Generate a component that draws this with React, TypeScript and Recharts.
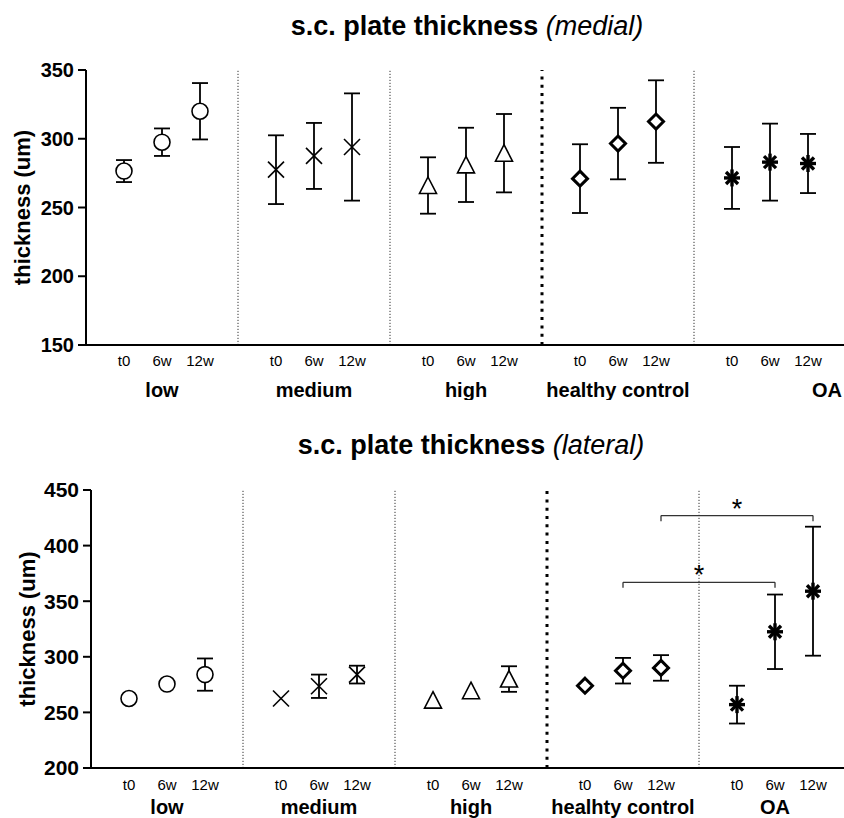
import React from "react";
import {
  ScatterChart,
  Scatter,
  XAxis,
  YAxis,
  ErrorBar,
  ReferenceLine,
  Label,
} from "recharts";

const FONT = '"Liberation Sans", Arial, Helvetica, sans-serif';

const timepoints = ["t0", "6w", "12w"];
const groupsMedial = ["low", "medium", "high", "healthy control", "OA"];
const groupsLateral = ["low", "medium", "high", "healhty control", "OA"];
const markers = ["circle", "cross", "triangle", "diamond", "asterisk"];

// mean thickness per group (t0, 6w, 12w)
const medialMean = [
  [276.5, 297.5, 320],
  [277.5, 287.5, 294],
  [266, 281, 289.5],
  [271, 296.5, 312.5],
  [271.5, 283, 282],
];
const medialSd = [
  [8, 10, 20.5],
  [25, 24, 39],
  [20.5, 27, 28.5],
  [25, 26, 30],
  [22.5, 28, 21.5],
];

const lateralMean = [
  [262.5, 275.5, 284],
  [262.5, 273.5, 284],
  [261, 269.5, 280],
  [274, 287.5, 290],
  [257, 322.5, 359],
];
// null = bar shorter than the symbol, not drawn
const lateralSd = [
  [null, null, 14.5],
  [null, 10.5, 8],
  [null, null, 11.5],
  [null, 11.5, 11.5],
  [17, 33.5, 58],
];

const medialTicks = [150, 200, 250, 300, 350];
const lateralTicks = [200, 250, 300, 350, 400, 450];

// separators between groups, the one at 12 is drawn heavier
const separators = [4, 8, 12, 16];
const medialGroupPos = [2, 6, 10, 14, 19.5];
const lateralGroupPos = [2, 6, 10, 14, 18];

// significance brackets (lateral)
const bracketFrom = [14, 15];
const bracketTo = [18, 19];
const bracketY = [367, 427];

const tpTicks = [0, 1, 2, 3, 4].flatMap((g) => [1, 2, 3].map((i) => g * 4 + i));

const makeShape = (kind: string) => (props: any) => {
  const { cx, cy } = props;
  if (cx == null || cy == null) return <g />;
  switch (kind) {
    case "circle":
      return <circle cx={cx} cy={cy} r={8} fill="#fff" stroke="#000" strokeWidth={1.6} />;
    case "cross":
      return (
        <g stroke="#000" strokeWidth={1.6}>
          <line x1={cx - 8} y1={cy - 8} x2={cx + 8} y2={cy + 8} />
          <line x1={cx - 8} y1={cy + 8} x2={cx + 8} y2={cy - 8} />
        </g>
      );
    case "triangle":
      return (
        <polygon
          points={`${cx},${cy - 8.5} ${cx + 8.5},${cy + 8} ${cx - 8.5},${cy + 8}`}
          fill="#fff"
          stroke="#000"
          strokeWidth={1.6}
        />
      );
    case "diamond":
      return (
        <polygon
          points={`${cx},${cy - 7.5} ${cx + 7.5},${cy} ${cx},${cy + 7.5} ${cx - 7.5},${cy}`}
          fill="#fff"
          stroke="#000"
          strokeWidth={3}
        />
      );
    default:
      return (
        <g stroke="#000" strokeWidth={3.4}>
          <line x1={cx} y1={cy - 8.5} x2={cx} y2={cy + 8.5} />
          <line x1={cx - 8} y1={cy} x2={cx + 8} y2={cy} />
          <line x1={cx - 6} y1={cy - 6} x2={cx + 6} y2={cy + 6} />
          <line x1={cx - 6} y1={cy + 6} x2={cx + 6} y2={cy - 6} />
        </g>
      );
  }
};

interface PanelProps {
  means: number[][];
  sds: (number | null)[][];
  groups: string[];
  groupPos: number[];
  yTicks: number[];
  width: number;
  height: number;
  top: number;
  yWidth: number;
  tickFont: number;
  yLabelX: number;
  tpOff: number;
  tpHeight: number;
  grpOff: number;
  grpHeight: number;
  brackets?: boolean;
}

function Panel(p: PanelProps) {
  const series = p.means.map((row, g) => {
    const withErr: any[] = [];
    const noErr: any[] = [];
    row.forEach((v, i) => {
      const sd = p.sds[g][i];
      const pt = { x: g * 4 + i + 1, y: v, err: sd };
      if (sd == null) noErr.push(pt);
      else withErr.push(pt);
    });
    return { withErr, noErr, shape: makeShape(markers[g]) };
  });

  return (
    <ScatterChart
      width={p.width}
      height={p.height}
      margin={{ top: p.top, right: 0, bottom: 0, left: 0 }}
    >
      <XAxis
        type="number"
        dataKey="x"
        domain={[0, 20]}
        ticks={tpTicks}
        allowDataOverflow
        height={p.tpHeight}
        stroke="#000"
        axisLine={{ stroke: "#000", strokeWidth: 2 }}
        tickLine={false}
        tickSize={0}
        tickMargin={0}
        tick={(t: any) => (
          <text
            x={t.x}
            y={t.y + p.tpOff}
            textAnchor="middle"
            dominantBaseline="central"
            fontSize={15}
            fontFamily={FONT}
            fill="#000"
          >
            {timepoints[(Math.round(t.payload.value) - 1) % 4]}
          </text>
        )}
      />
      <XAxis
        xAxisId="grp"
        type="number"
        dataKey="x"
        domain={[0, 20]}
        ticks={p.groupPos}
        allowDataOverflow
        height={p.grpHeight}
        axisLine={false}
        tickLine={false}
        tickSize={0}
        tickMargin={0}
        tick={(t: any) => (
          <text
            x={t.x}
            y={t.y + p.grpOff}
            textAnchor="middle"
            dominantBaseline="central"
            fontSize={20}
            fontWeight="bold"
            fontFamily={FONT}
            fill="#000"
          >
            {p.groups[t.index]}
          </text>
        )}
      />
      <YAxis
        type="number"
        dataKey="y"
        domain={[p.yTicks[0], p.yTicks[p.yTicks.length - 1]]}
        ticks={p.yTicks}
        allowDataOverflow
        width={p.yWidth}
        axisLine={{ stroke: "#000", strokeWidth: 2 }}
        tickLine={{ stroke: "#000", strokeWidth: 2 }}
        tickSize={8}
        tickMargin={4}
        tick={{ fontSize: p.tickFont, fontWeight: "bold", fill: "#000", fontFamily: FONT }}
      >
        <Label
          content={(lp: any) => {
            const vb = lp.viewBox || {};
            const cy = vb.y + vb.height / 2;
            return (
              <text
                x={p.yLabelX}
                y={cy}
                transform={`rotate(-90 ${p.yLabelX} ${cy})`}
                textAnchor="middle"
                dominantBaseline="central"
                fontSize={22}
                fontWeight="bold"
                fontFamily={FONT}
                fill="#000"
              >
                thickness (um)
              </text>
            );
          }}
        />
      </YAxis>

      {separators.map((s) => (
        <ReferenceLine
          key={`sep-${s}`}
          x={s}
          stroke={s === 12 ? "#000" : "#333"}
          strokeWidth={s === 12 ? 3 : 1}
          strokeDasharray={s === 12 ? "3 5.3" : "1.2 1.8"}
        />
      ))}

      {p.brackets &&
        bracketFrom.map((a, k) => {
          const b = bracketTo[k];
          const yv = bracketY[k];
          return (
            <React.Fragment key={`br-${k}`}>
              <ReferenceLine
                segment={[
                  { x: a, y: yv },
                  { x: b, y: yv },
                ]}
                stroke="#333"
                strokeWidth={1.3}
                label={{
                  value: "*",
                  position: "top",
                  offset: -2,
                  fontSize: 27,
                  fill: "#000",
                  fontFamily: FONT,
                }}
              />
              <ReferenceLine
                segment={[
                  { x: a, y: yv },
                  { x: a, y: yv - 5 },
                ]}
                stroke="#333"
                strokeWidth={1.3}
              />
              <ReferenceLine
                segment={[
                  { x: b, y: yv },
                  { x: b, y: yv - 5 },
                ]}
                stroke="#333"
                strokeWidth={1.3}
              />
            </React.Fragment>
          );
        })}

      {series.map((s, g) => (
        <Scatter
          key={`e-${g}`}
          data={s.withErr}
          shape={s.shape}
          isAnimationActive={false}
        >
          <ErrorBar
            dataKey="err"
            direction="y"
            width={8}
            stroke="#000"
            strokeWidth={1.8}
            isAnimationActive={false}
          />
        </Scatter>
      ))}
      {series.map((s, g) =>
        s.noErr.length ? (
          <Scatter
            key={`n-${g}`}
            data={s.noErr}
            shape={s.shape}
            isAnimationActive={false}
          />
        ) : null
      )}
    </ScatterChart>
  );
}

function Title({ top, center, side }: { top: number; center: number; side: string }) {
  return (
    <div
      style={{
        position: "absolute",
        top,
        left: center - 300,
        width: 600,
        textAlign: "center",
        fontFamily: FONT,
        fontSize: 27,
        lineHeight: "27px",
        fontWeight: "bold",
        color: "#000",
        whiteSpace: "nowrap",
      }}
    >
      s.c. plate thickness{" "}
      <span style={{ fontStyle: "italic", fontWeight: "normal" }}>({side})</span>
    </div>
  );
}

export default function App() {
  return (
    <div
      style={{
        position: "absolute",
        left: 0,
        top: 0,
        width: 844,
        height: 818,
        overflow: "hidden",
        background: "#fff",
      }}
    >
      <div style={{ position: "absolute", left: 0, top: 0 }}>
        <Panel
          means={medialMean}
          sds={medialSd}
          groups={groupsMedial}
          groupPos={medialGroupPos}
          yTicks={medialTicks}
          width={846}
          height={400}
          top={70}
          yWidth={86}
          tickFont={20}
          yLabelX={22}
          tpOff={15}
          tpHeight={30}
          grpOff={15}
          grpHeight={25}
        />
      </div>
      <div style={{ position: "absolute", left: 0, top: 400 }}>
        <Panel
          means={lateralMean}
          sds={lateralSd}
          groups={groupsLateral}
          groupPos={lateralGroupPos}
          yTicks={lateralTicks}
          width={851}
          height={418}
          top={90}
          yWidth={91}
          tickFont={21}
          yLabelX={27}
          tpOff={16}
          tpHeight={25}
          grpOff={14}
          grpHeight={25}
          brackets
        />
      </div>
      <Title top={13} center={467} side="medial" />
      <Title top={432} center={471} side="lateral" />
    </div>
  );
}
